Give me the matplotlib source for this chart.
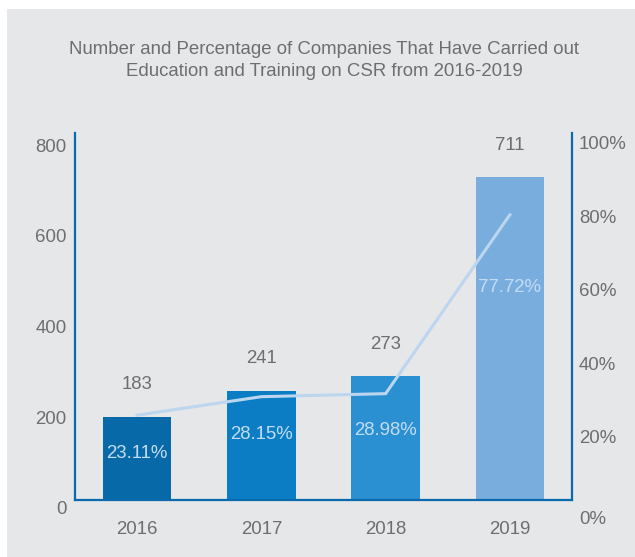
import matplotlib
matplotlib.use("Agg")
import matplotlib.pyplot as plt
from matplotlib.patches import Rectangle
from matplotlib.transforms import ScaledTranslation

years = ["2016", "2017", "2018", "2019"]
companies = [183, 241, 273, 711]
percentages = [23.11, 28.15, 28.98, 77.72]
left_ticks = [0, 200, 400, 600, 800]
right_ticks = [0, 20, 40, 60, 80, 100]

bar_colors = ["#0769A8", "#0A7DC4", "#2A90D2", "#79ADDE"]
line_color = "#BCD6EF"
pct_text_color = "#C4DCF3"
text_color = "#6D6E71"
spine_color = "#0A6AAD"
panel_color = "#E6E7E9"

plt.rcParams["font.family"] = ["Liberation Sans", "DejaVu Sans"]
FS = 13.4
W, H, DPI = 635, 557, 100
fig = plt.figure(figsize=(W / DPI, H / DPI), dpi=DPI)
fig.patch.set_facecolor("white")
fig.patches.append(Rectangle((7 / W, 0), 1 - 7 / W, 548 / H,
                             transform=fig.transFigure, facecolor=panel_color,
                             edgecolor="none", zorder=-10))

ax = fig.add_axes([75 / W, (H - 500) / H, 497 / W, 367 / H])
ax.patch.set_visible(False)
x = list(range(len(years)))
ax.bar(x, companies, width=0.55, color=bar_colors, zorder=2)
ax.set_xlim(-0.5, len(years) - 0.5)
ax.set_ylim(0, 809)
ax.set_xticks(x)
ax.set_xticklabels(years, fontsize=FS, color=text_color)
ax.set_yticks(left_ticks)
ax.set_yticklabels([str(t) for t in left_ticks], fontsize=FS, color=text_color)
ax.tick_params(axis="both", length=0)
ax.tick_params(axis="x", pad=15)
ax.tick_params(axis="y", pad=6)
for lbl in ax.get_yticklabels():
    lbl.set_transform(lbl.get_transform() + ScaledTranslation(0, -8 / DPI, fig.dpi_scale_trans))

for s in ["top", "right"]:
    ax.spines[s].set_visible(False)
for s in ["left", "bottom"]:
    ax.spines[s].set_color(spine_color)
    ax.spines[s].set_linewidth(1.6)

for xi, v in zip(x, companies):
    ax.annotate(str(v), xy=(xi, v), xytext=(0, 32), textcoords="offset pixels",
                ha="center", va="center", fontsize=FS, color=text_color)

ax2 = ax.twinx()
ax2.patch.set_visible(False)
ax2.set_ylim(0, 100)
ax2.plot(x, percentages, color=line_color, linewidth=2.2, zorder=3)
ax2.set_yticks(right_ticks)
ax2.set_yticklabels([f"{t}%" for t in right_ticks], fontsize=FS, color=text_color)
ax2.tick_params(axis="y", length=0, pad=5)
for i, lbl in enumerate(ax2.get_yticklabels()):
    dy = -17 if i == 0 else -10
    lbl.set_transform(lbl.get_transform() + ScaledTranslation(0, dy / DPI, fig.dpi_scale_trans))
for s in ["top", "left", "bottom"]:
    ax2.spines[s].set_visible(False)
ax2.spines["right"].set_color(spine_color)
ax2.spines["right"].set_linewidth(1.6)

pct_offsets = [-38, -38, -37, -73]
for xi, p, dy in zip(x, percentages, pct_offsets):
    ax2.annotate(f"{p:.2f}%", xy=(xi, p), xytext=(0, dy), textcoords="offset pixels",
                 ha="center", va="center", fontsize=FS, color=pct_text_color)

fig.text(324 / W, 1 - 50 / H, "Number and Percentage of Companies That Have Carried out",
         ha="center", va="center", fontsize=FS, color=text_color)
fig.text(324 / W, 1 - 72 / H, "Education and Training on CSR from 2016-2019",
         ha="center", va="center", fontsize=FS, color=text_color)

fig.savefig("out.png", dpi=DPI, facecolor=fig.get_facecolor())
